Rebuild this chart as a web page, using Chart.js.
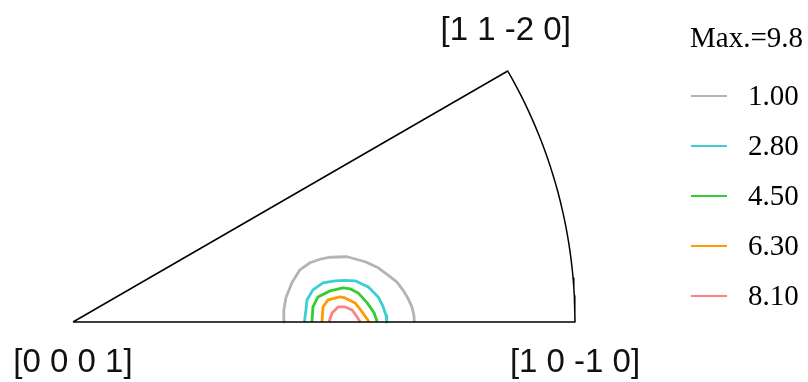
<!DOCTYPE html>
<html>
<head>
<meta charset="utf-8">
<script src="https://cdn.jsdelivr.net/npm/chart.js@4"></script>
<style>
  html, body { margin: 0; padding: 0; background: #fff; }
  #wrap { width: 808px; height: 382px; }
</style>
</head>
<body>
<div id="wrap"><canvas id="ipf" width="808" height="382"></canvas></div>
<script>
// 等值线级别与颜色
const levels = ['1.00', '2.80', '4.50', '6.30', '8.10'];
const levelColors = ['#b4b4b4', '#3ccfd2', '#33cc33', '#ff9a00', '#ff8080'];
const maxLabel = 'Max.=9.8';

// 极点标签 (六方晶系反极图)
const poleLabels = ['[0 0 0 1]', '[1 0 -1 0]', '[1 1 -2 0]'];
const poleAngles = [null, 0, 30]; // 方位角(度)

// 等值线 (投影坐标, 半径=1)
const contour100 = [[0.419,0],[0.420,0.024],[0.424,0.048],[0.436,0.078],[0.452,0.104],[0.472,0.118],[0.492,0.125],[0.512,0.129],[0.546,0.130],[0.582,0.120],[0.608,0.108],[0.627,0.094],[0.645,0.080],[0.657,0.064],[0.667,0.048],[0.675,0.030],[0.679,0.014],[0.680,0]];
const contour280 = [[0.461,0],[0.464,0.024],[0.466,0.044],[0.478,0.064],[0.498,0.078],[0.522,0.082],[0.542,0.083],[0.562,0.082],[0.588,0.070],[0.608,0.050],[0.618,0.030],[0.624,0.012],[0.625,0]];
const contour450 = [[0.476,0],[0.478,0.030],[0.488,0.050],[0.512,0.062],[0.538,0.068],[0.552,0.066],[0.568,0.058],[0.586,0.038],[0.600,0.018],[0.606,0]];
const contour630 = [[0.496,0],[0.498,0.030],[0.508,0.044],[0.532,0.050],[0.542,0.048],[0.562,0.038],[0.576,0.020],[0.590,0]];
const contour810 = [[0.510,0],[0.516,0.018],[0.528,0.030],[0.542,0.030],[0.556,0.024],[0.566,0.010],[0.572,0]];
const contours = [contour100, contour280, contour450, contour630, contour810];

// 画布映射: 原点像素与比例
const W = 808, H = 382;
const ORIGIN_X = 73, ORIGIN_Y = 322, PX_PER_UNIT = 502;

// 反极图边框 (扇形 0°~30°)
function sectorFrame() {
  const pts = [{ x: 0, y: 0 }];
  for (let a = 30; a >= 0; a -= 1) {
    const r = a * Math.PI / 180;
    pts.push({ x: Math.cos(r), y: Math.sin(r) });
  }
  pts.push({ x: 0, y: 0 });
  return pts;
}

const datasets = [{
  label: 'frame',
  data: sectorFrame(),
  borderColor: '#000',
  borderWidth: 1.5,
  borderJoinStyle: 'round',
  pointRadius: 0,
  showLine: true
}];
contours.forEach((c, i) => {
  datasets.push({
    label: levels[i],
    data: c.map(p => ({ x: p[0], y: p[1] })),
    borderColor: levelColors[i],
    borderWidth: 2.8,
    borderJoinStyle: 'round',
    pointRadius: 0,
    showLine: true
  });
});

// 标签与图例插件
const labelPlugin = {
  id: 'ipfLabels',
  afterDraw(chart) {
    const ctx = chart.ctx;
    const xs = chart.scales.x, ys = chart.scales.y;
    ctx.save();
    // 极点标签
    ctx.font = '33px "Liberation Sans", Arial, sans-serif';
    ctx.fillStyle = '#111';
    ctx.textAlign = 'center';
    ctx.textBaseline = 'middle';
    poleLabels.forEach((txt, i) => {
      const a = poleAngles[i];
      const ux = a === null ? 0 : Math.cos(a * Math.PI / 180);
      const uy = a === null ? 0 : Math.sin(a * Math.PI / 180);
      const px = xs.getPixelForValue(ux);
      const py = ys.getPixelForValue(uy);
      const dy = a === 30 ? -40 : 41;
      ctx.fillText(txt, px - (a === 30 ? 2 : 0), py + dy);
    });
    // 图例
    ctx.font = '29px "Liberation Serif", "Times New Roman", serif';
    ctx.textAlign = 'left';
    ctx.fillStyle = '#000';
    ctx.fillText(maxLabel, 690, 39);
    levels.forEach((lv, i) => {
      const y = 96 + i * 50;
      ctx.strokeStyle = levelColors[i];
      ctx.lineWidth = 2;
      ctx.beginPath();
      ctx.moveTo(691, y);
      ctx.lineTo(727, y);
      ctx.stroke();
      ctx.fillText(lv, 748, y + 1);
    });
    ctx.restore();
  }
};

new Chart(document.getElementById('ipf'), {
  type: 'scatter',
  data: { datasets },
  options: {
    responsive: false,
    animation: false,
    layout: { padding: 0 },
    plugins: { legend: { display: false }, tooltip: { enabled: false } },
    scales: {
      x: { type: 'linear', display: false, min: -ORIGIN_X / PX_PER_UNIT, max: (W - ORIGIN_X) / PX_PER_UNIT },
      y: { type: 'linear', display: false, min: -(H - ORIGIN_Y) / PX_PER_UNIT, max: ORIGIN_Y / PX_PER_UNIT }
    },
    elements: { line: { tension: 0 } }
  },
  plugins: [labelPlugin]
});
</script>
</body>
</html>
